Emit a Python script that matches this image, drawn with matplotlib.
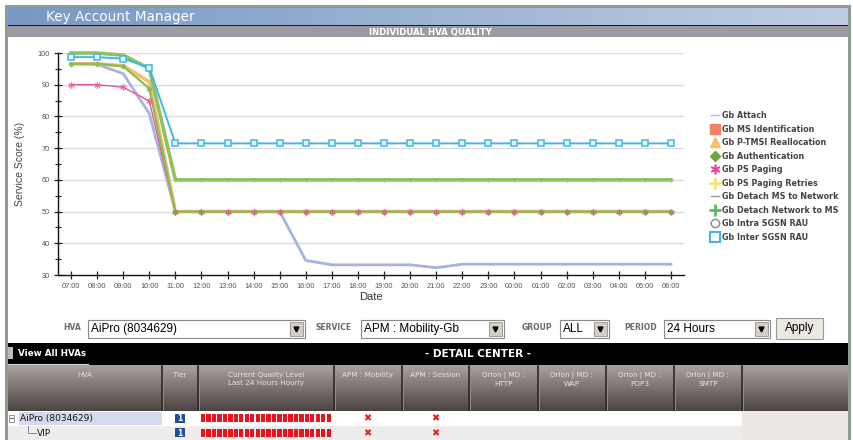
import numpy as np
import matplotlib
matplotlib.use("Agg")
import matplotlib.pyplot as plt
from matplotlib.lines import Line2D
from matplotlib.patches import Rectangle

# ---------------- data ----------------
hours = ["07:00", "08:00", "09:00", "10:00", "11:00", "12:00", "13:00", "14:00",
         "15:00", "16:00", "17:00", "18:00", "19:00", "20:00", "21:00", "22:00",
         "23:00", "00:00", "01:00", "02:00", "03:00", "04:00", "05:00", "06:00"]

gb_attach = [96.6, 96.4, 93.5, 80.9, 50, 50, 50, 50, 50, 34.6, 33.2, 33.2,
             33.2, 33.2, 32.3, 33.4, 33.4, 33.4, 33.4, 33.4, 33.4, 33.4, 33.4, 33.4]
gb_ptmsi = [96.6, 96.6, 96.0, 90.9, 50, 50, 50, 50, 50, 50, 50, 50,
            50, 50, 50, 50, 50, 50, 50, 50, 50, 50, 50, 50]
gb_auth = [96.6, 96.6, 95.8, 88.8, 50, 50, 50, 50, 50, 50, 50, 50,
           50, 50, 50, 50, 50, 50, 50, 50, 50, 50, 50, 50]
gb_paging = [90.0, 90.0, 89.2, 84.9, 50, 50, 50, 50, 50, 50, 50, 50,
             50, 50, 50, 50, 50, 50, 50, 50, 50, 50, 50, 50]
gb_detach_nw = [100, 100, 99.3, 95.1, 60, 60, 60, 60, 60, 60, 60, 60,
                60, 60, 60, 60, 60, 60, 60, 60, 60, 60, 60, 60]
gb_inter_rau = [98.7, 98.7, 98.2, 95.4, 71.5, 71.5, 71.5, 71.5, 71.5, 71.5, 71.5, 71.5,
                71.5, 71.5, 71.5, 71.5, 71.5, 71.5, 71.5, 71.5, 71.5, 71.5, 71.5, 71.5]

legend_labels = ["Gb Attach", "Gb MS Identification", "Gb P-TMSI Reallocation",
                 "Gb Authentication", "Gb PS Paging", "Gb PS Paging Retries",
                 "Gb Detach MS to Network", "Gb Detach Network to MS",
                 "Gb Intra SGSN RAU", "Gb Inter SGSN RAU"]

table_cols = ["HVA", "Tier", "Current Quality Level\nLast 24 Hours Hourly",
              "APM : Mobility", "APM : Session", "Orion | MD :\nHTTP",
              "Orion | MD :\nWAP", "Orion | MD :\nPOP3", "Orion | MD :\nSMTP"]
table_rows = ["AiPro (8034629)", "VIP"]
row_tiers = ["1", "1"]
quality_hours = [0] * 24  # all hours at bad quality (red)

# ---------------- figure ----------------
W, H = 854, 440
fig = plt.figure(figsize=(W / 100, H / 100), dpi=100)
fig.patch.set_facecolor("white")

ui = fig.add_axes([0, 0, 1, 1], zorder=0)
ui.set_xlim(0, W)
ui.set_ylim(H, 0)
ui.axis("off")

UIF = "DejaVu Sans"
AF = "Liberation Sans"


def rect(x0, y0, x1, y1, fc, ec="none", lw=0, z=1):
    ui.add_patch(Rectangle((x0, y0), x1 - x0, y1 - y0, facecolor=fc,
                           edgecolor=ec, linewidth=lw, zorder=z))


def vgrad(x0, y0, x1, y1, c_top, c_bot, z=1):
    ct = np.array(matplotlib.colors.to_rgb(c_top))
    cb = np.array(matplotlib.colors.to_rgb(c_bot))
    t = np.linspace(0, 1, 64)[:, None]
    img = (ct * (1 - t) + cb * t)[:, None, :]
    ui.imshow(img, extent=(x0, x1, y1, y0), aspect="auto", zorder=z,
              interpolation="bilinear")


def hgrad(x0, y0, x1, y1, c_l, c_r, z=1):
    cl = np.array(matplotlib.colors.to_rgb(c_l))
    cr = np.array(matplotlib.colors.to_rgb(c_r))
    t = np.linspace(0, 1, 128)[None, :, None]
    img = cl * (1 - t) + cr * t
    ui.imshow(img, extent=(x0, x1, y1, y0), aspect="auto", zorder=z,
              interpolation="bilinear")


# outer frame
rect(5, 5, 851, 440, "#8d9d8f", z=0.5)
rect(8, 8, 848, 440, "white", z=0.6)
# title bar
hgrad(8, 8, 848, 25, "#7898c4", "#c0cee3", z=1)
ui.text(46, 16.5, "Key Account Manager", color="white", fontsize=9.8,
        family=UIF, va="center", ha="left", zorder=3)
rect(8, 25, 848, 26.5, "#1a1a1a", z=2)
rect(8, 26.5, 848, 37.5, "#9c9ba1", z=2)
ui.text(430, 32, "INDIVIDUAL HVA QUALITY", color="white", fontsize=6.2,
        family=UIF, weight="bold", ha="center", va="center", zorder=3)

# ---- control row ----
def dropdown(x0, x1, text):
    rect(x0, 320, x1, 338, "white", ec="#8a8a8a", lw=0.8, z=2)
    rect(x1 - 15, 322, x1 - 2, 336, "#d4d0c8", ec="#909090", lw=0.6, z=3)
    ui.plot([x1 - 8.5], [329.5], marker="v", ms=3.5, color="black", zorder=4)
    ui.text(x0 + 3, 329, text, fontsize=8.5, family=AF, va="center",
            ha="left", color="black", zorder=4)


for lab, cx in [("HVA", 72), ("SERVICE", 334), ("GROUP", 537), ("PERIOD", 641)]:
    ui.text(cx, 328, lab, fontsize=5.5, family=UIF, weight="bold",
            color="#6a6a6a", ha="center", va="center", zorder=3)
dropdown(88, 305, "AiPro (8034629)")
dropdown(361, 504, "APM : Mobility-Gb")
dropdown(560, 609, "ALL")
dropdown(664, 770, "24 Hours")
rect(776, 318, 823, 339, "#ece9e2", ec="#9a9a9a", lw=0.8, z=2)
ui.text(799.5, 328.5, "Apply", fontsize=8.5, family=AF, ha="center",
        va="center", zorder=3)

# ---- detail center bar ----
rect(8, 343, 848, 365, "black", z=2)
rect(8, 347, 13, 359, "#bcbcbc", z=3)
ui.text(18, 353.5, "View All HVAs", color="white", fontsize=6.3, family=UIF,
        weight="bold", va="center", ha="left", zorder=3)
ui.plot([8, 88], [364, 364], color="#d0d0d0", lw=0.8, zorder=3)
ui.text(478, 354, "- DETAIL CENTER -", color="white", fontsize=7.5,
        family=UIF, weight="bold", ha="center", va="center", zorder=3)

# ---- table header ----
col_edges = [8, 162, 198, 334, 402, 469, 538, 606, 674, 742, 848]
vgrad(8, 365, 848, 411, "#aaa29e", "#4c4442", z=2)
for x in col_edges[1:-1]:
    ui.plot([x, x], [366, 410], color="#2f2826", lw=1.2, zorder=3)
    ui.plot([x + 1.3, x + 1.3], [366, 410], color="#9a928e", lw=0.6, zorder=3)
for i, name in enumerate(table_cols):
    cx = (col_edges[i] + col_edges[i + 1]) / 2
    ui.text(cx, 372, name, color="#e8e4e0", fontsize=5.2, family=UIF,
            ha="center", va="top", linespacing=1.35, zorder=4)

# ---- table rows ----
rect(8, 411, 742, 426, "white", z=2)
rect(8, 426, 742, 440, "#efedeb", z=2)
rect(742, 411, 848, 440, "#ebe8e5", z=2)
rect(19, 412, 162, 425.5, "#d6daec", z=2.5)
row_y = [418.5, 433]
# tree icons
rect(9, 415, 14, 422, "white", ec="#888888", lw=0.6, z=3)
ui.plot([10.3, 12.7], [418.5, 418.5], color="#444", lw=0.6, zorder=4)
ui.plot([28, 28, 36], [426, 433, 433], color="#777", lw=0.6, zorder=3)
ui.text(20, row_y[0], table_rows[0], fontsize=6.5, family=UIF, va="center",
        ha="left", color="#111", zorder=4)
ui.text(37, row_y[1], table_rows[1], fontsize=6.5, family=UIF, va="center",
        ha="left", color="#111", zorder=4)
for ry, tier in zip(row_y, row_tiers):
    rect(175, ry - 4.5, 185, ry + 4.5, "#1f4f9e", z=3)
    ui.text(180, ry, tier, color="white", fontsize=5.5, family=UIF,
            weight="bold", ha="center", va="center", zorder=4)
    seg_w = (332 - 201) / len(quality_hours)
    for k, q in enumerate(quality_hours):
        x0 = 201 + k * seg_w
        rect(x0, ry - 4, x0 + seg_w - 1.2, ry + 4,
             "#e8141c" if q == 0 else "#2ca02c", z=3)
    for cx in (367, 435):
        ui.text(cx, ry, "\u2716", color="#e8201c", fontsize=7, family="DejaVu Sans",
                ha="center", va="center", zorder=4)

# ---------------- chart ----------------
ax_l, ax_r, ax_t, ax_b = 58, 684, 53, 275
ax = fig.add_axes([ax_l / W, 1 - ax_b / H, (ax_r - ax_l) / W, (ax_b - ax_t) / H],
                  zorder=2)
ax.patch.set_alpha(0)
x = np.arange(len(hours))

ax.plot(x, gb_attach, color="#a7b3dc", lw=2.0, zorder=3, clip_on=False)
ax.plot(x, gb_ptmsi, color="#f3c06c", lw=2.6, zorder=3.1, clip_on=False)
ax.plot(x, gb_paging, color="#e2559e", lw=1.0, zorder=3.15, clip_on=False)
ax.plot(x, gb_auth, color="#8cbc56", lw=1.6, marker="D", ms=2.3,
        zorder=3.2, clip_on=False)
ax.plot(x, gb_paging, lw=0, color="#e2559e", marker=(6, 2, 0), ms=4.5,
        mew=0.9, alpha=0.75, zorder=3.25, clip_on=False)
ax.plot(x, gb_detach_nw, color="#8ec262", lw=2.6, marker="+", ms=3,
        mew=0.8, zorder=3.4, clip_on=False)
ax.plot(x, gb_inter_rau, color="#43b5e8", lw=1.4, marker="s", ms=4.6,
        mfc="#e8f6fd", mec="#43b5e8", mew=1.1, zorder=3.5, clip_on=False)

ax.set_xlim(-0.5, len(hours) - 0.5)
ax.set_ylim(30, 100)
ax.set_xticks(x)
ax.set_xticklabels(hours)
ax.set_yticks(np.arange(30, 101, 10))
ax.set_yticks(np.arange(35, 100, 10), minor=True)
ax.tick_params(axis="both", which="major", direction="inout", length=6,
               width=0.9, color="#222", labelsize=5.3, labelcolor="#555",
               pad=3)
ax.tick_params(axis="y", which="minor", direction="inout", length=5,
               width=0.9, color="#222")
for lab in ax.get_xticklabels() + ax.get_yticklabels():
    lab.set_family(AF)
for yv in range(40, 101, 10):
    ax.axhline(yv, color="#dcdcdc", lw=1.0, zorder=1)
for s in ("top", "right"):
    ax.spines[s].set_visible(False)
for s in ("left", "bottom"):
    ax.spines[s].set_color("#111")
    ax.spines[s].set_linewidth(1.0)
ax.set_ylabel("Service Score (%)", fontsize=7.5, family=AF, color="#444",
              labelpad=9)
ax.set_xlabel("Date", fontsize=8, family=AF, color="#333", labelpad=1)

handles = [
    Line2D([], [], color="#a7c4e6", lw=1.0),
    Line2D([], [], color="#f08462", lw=0, marker="s", ms=6.5),
    Line2D([], [], color="#f5c06a", lw=0, marker="^", ms=7),
    Line2D([], [], color="#6fa43a", lw=0, marker="D", ms=5.5),
    Line2D([], [], color="#e8489c", lw=0, marker=(6, 2, 0), ms=7, mew=1.2),
    Line2D([], [], color="#f8e27a", lw=0, marker="+", ms=8, mew=2),
    Line2D([], [], color="#9a9a9a", lw=1.0),
    Line2D([], [], color="#5cbc5c", lw=0, marker="+", ms=8, mew=2),
    Line2D([], [], color="#8a8a8a", lw=1.0, marker="o", ms=6, mfc="white"),
    Line2D([], [], color="#43b5e8", lw=1.2, marker="s", ms=6.5, mfc="white",
           mew=1.5),
]
leg = fig.legend(handles, legend_labels, loc="upper left",
                 bbox_to_anchor=(707 / W, 1 - 107 / H), frameon=False,
                 handlelength=1.0, handletextpad=0.35,
                 labelspacing=0.56, borderpad=0,
                 prop={"family": UIF, "size": 5.8, "weight": "bold"})
for t in leg.get_texts():
    t.set_color("#444")

fig.savefig("out.png", dpi=100)
